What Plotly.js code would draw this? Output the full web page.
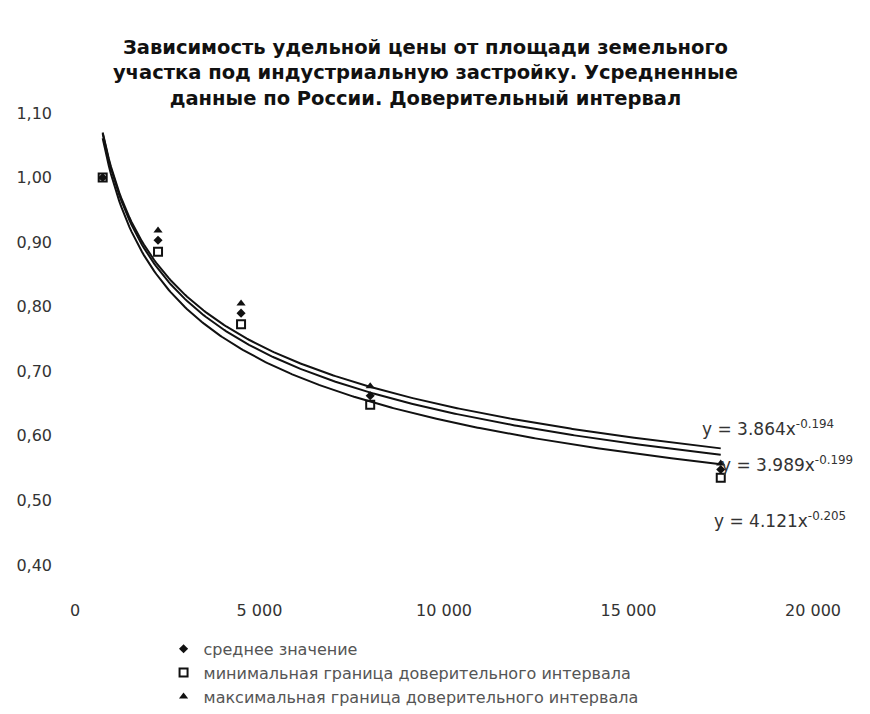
<!DOCTYPE html>
<html>
<head>
<meta charset="utf-8">
<script src="https://cdn.plot.ly/plotly-3.0.1.min.js"></script>
<style>html,body{margin:0;padding:0;background:#fff;}#chart{width:870px;height:714px;}</style>
</head>
<body>
<div id="chart"></div>
<script>
// Data
const areaX = [750, 2250, 4500, 8000, 17500];
const meanVals = [1.00, 0.903, 0.790, 0.662, 0.548];
const minVals  = [1.00, 0.885, 0.773, 0.648, 0.535];
const maxVals  = [1.00, 0.918, 0.805, 0.677, 0.557];

const seriesNames = [
  "среднее значение",
  "минимальная граница доверительного интервала",
  "максимальная граница доверительного интервала"
];

// Power trendlines as printed on the chart: y = a * x^b
const trendA = [3.989, 4.121, 3.864];
const trendB = [-0.199, -0.205, -0.194];
const trendLabels = ["y = 3.989x<sup>-0.199</sup>", "y = 4.121x<sup>-0.205</sup>", "y = 3.864x<sup>-0.194</sup>"];

const yTickVals = [0.4, 0.5, 0.6, 0.7, 0.8, 0.9, 1.0, 1.1];
const yTickText = ["0,40", "0,50", "0,60", "0,70", "0,80", "0,90", "1,00", "1,10"];
const xTickVals = [0, 5000, 10000, 15000, 20000];
const xTickText = ["0", "5 000", "10 000", "15 000", "20 000"];

const titleText = "Зависимость удельной цены от площади земельного<br>участка под индустриальную застройку. Усредненные<br>данные по России. Доверительный интервал";

// trendline curves over the data x-range
function trendCurve(a, b) {
  const xs = [], ys = [];
  const x0 = Math.min(...areaX), x1 = Math.max(...areaX);
  const n = 300;
  for (let i = 0; i <= n; i++) {
    const x = x0 + (x1 - x0) * i / n;
    xs.push(x); ys.push(a * Math.pow(x, b));
  }
  return {xs, ys};
}

const traces = [];
for (let k = 0; k < 3; k++) {
  const c = trendCurve(trendA[k], trendB[k]);
  traces.push({x: c.xs, y: c.ys, mode: "lines", line: {color: "#111", width: 2}, showlegend: false, hoverinfo: "skip"});
}
traces.push({x: areaX, y: meanVals, mode: "markers", name: seriesNames[0],
  marker: {symbol: "diamond", size: 7, color: "#111"}});
traces.push({x: areaX, y: minVals, mode: "markers", name: seriesNames[1],
  marker: {symbol: "square-open", size: 8, color: "#111", line: {width: 2, color: "#111"}}});
traces.push({x: areaX, y: maxVals, mode: "markers", name: seriesNames[2],
  marker: {symbol: "triangle-up", size: 8, color: "#111"}});

const annPos = [[0.872, 0.223], [0.863, 0.100], [0.847, 0.303]];
const annotations = trendLabels.map((t, i) => ({
  text: t, xref: "paper", yref: "paper", x: annPos[i][0], y: annPos[i][1],
  xanchor: "left", yanchor: "middle", showarrow: false,
  font: {family: "DejaVu Sans", size: 17, color: "#333"}
}));

const layout = {
  width: 870, height: 714,
  paper_bgcolor: "#fff", plot_bgcolor: "#fff",
  margin: {l: 75, r: 57, t: 113, b: 149, autoexpand: false},
  title: {text: titleText, x: 0.489, xref: "container", xanchor: "center",
    y: 1 - 54/714, yref: "container", yanchor: "top",
    font: {family: "DejaVu Sans", size: 19.5, color: "#111", weight: "bold"}},
  xaxis: {range: [0, 20000], tickvals: xTickVals, ticktext: xTickText, showgrid: false,
    zeroline: false, showline: false, ticks: "", ticklabelstandoff: 34, automargin: false,
    tickfont: {family: "DejaVu Sans", size: 16, color: "#333"}},
  yaxis: {range: [0.4, 1.1], tickvals: yTickVals, ticktext: yTickText, showgrid: false,
    zeroline: false, showline: false, ticks: "", ticklabelstandoff: 22, automargin: false,
    tickfont: {family: "DejaVu Sans", size: 16, color: "#333"}},
  showlegend: true,
  legend: {x: 0.12, y: -0.148, xanchor: "left", yanchor: "top", orientation: "v",
    itemwidth: 30, font: {family: "DejaVu Sans", size: 16, color: "#555"}, bgcolor: "rgba(0,0,0,0)"},
  annotations: annotations
};

Plotly.newPlot("chart", traces, layout, {displayModeBar: false, staticPlot: true});
</script>
</body>
</html>
